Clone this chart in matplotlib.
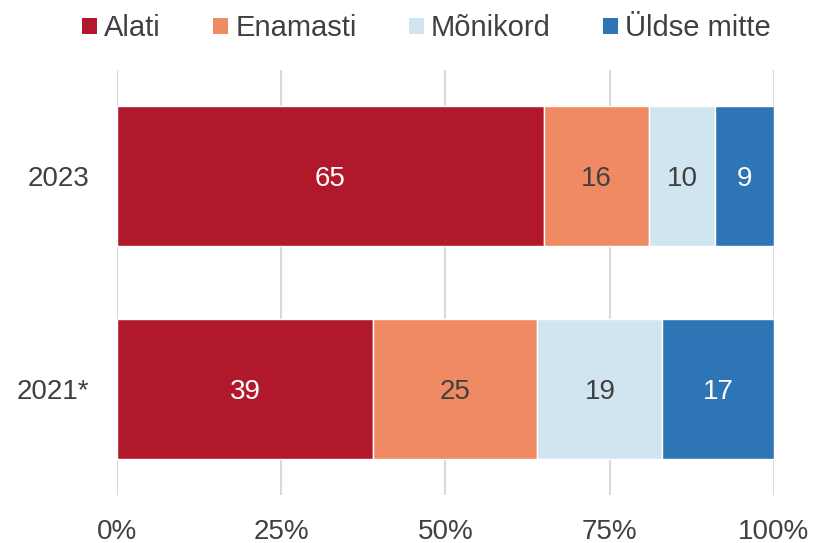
import matplotlib.pyplot as plt
import numpy as np
from matplotlib.patches import Patch

# andmed
years = ['2021*', '2023']
categories = ['Alati', 'Enamasti', 'Mõnikord', 'Üldse mitte']
values = {
    'Alati': [39, 65],
    'Enamasti': [25, 16],
    'Mõnikord': [19, 10],
    'Üldse mitte': [17, 9],
}
xticks = [0, 25, 50, 75, 100]
xtick_labels = ['0%', '25%', '50%', '75%', '100%']

colors = ['#B2182B', '#EF8A62', '#D1E5F0', '#2E75B6']
label_colors = ['white', '#404040', '#404040', 'white']
text_color = '#404040'

plt.rcParams['font.family'] = ['Liberation Sans', 'DejaVu Sans']
plt.rcParams['font.size'] = 20

fig = plt.figure(figsize=(8.16, 5.43), dpi=100)
ax = fig.add_axes([0.1434, 0.0884, 0.8051, 0.7826])

y = np.arange(len(years))
left = np.zeros(len(years))
for cat, col, lcol in zip(categories, colors, label_colors):
    vals = np.array(values[cat])
    ax.barh(y, vals, left=left, height=0.66, color=col,
            edgecolor='white', linewidth=1, zorder=3)
    # väärtused lõigu keskele
    for yi, l, v in zip(y, left, vals):
        ax.annotate(str(v), (l + v / 2, yi), xytext=(0, -2),
                    textcoords='offset points', ha='center', va='center',
                    color=lcol, fontsize=20, zorder=4)
    left += vals

ax.set_xlim(0, 100)
ax.set_ylim(-0.5, 1.5)
ax.set_xticks(xticks)
ax.set_xticklabels(xtick_labels)
ax.set_yticks(y)
ax.set_yticklabels(years)
ax.tick_params(axis='both', length=0, colors=text_color, labelsize=20)
ax.tick_params(axis='x', pad=17)
ax.tick_params(axis='y', pad=20)
ax.grid(axis='x', color='#D9D9D9', linewidth=1.5, zorder=0)
for s in ax.spines.values():
    s.set_visible(False)

handles = [Patch(facecolor=c, edgecolor='none') for c in colors]
fig.legend(handles, categories, loc='center', bbox_to_anchor=(0.5227, 0.948),
           ncol=4, frameon=False, handlelength=0.5, handleheight=0.5,
           handletextpad=0.25, columnspacing=1.8, labelcolor=text_color,
           fontsize=21)

fig.savefig('out.png', dpi=100)
